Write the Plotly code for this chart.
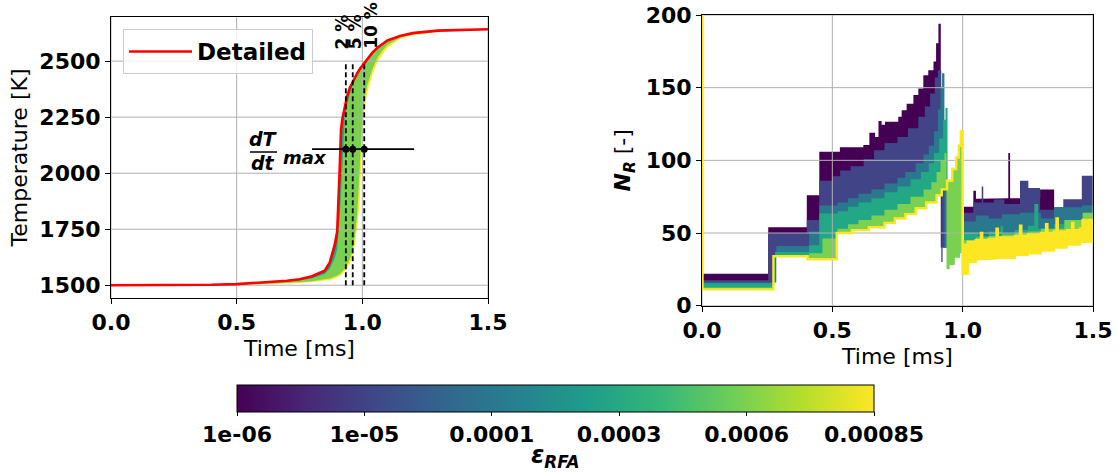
import plotly.graph_objects as go

W, H = 1118, 472
FONT = "DejaVu Sans"

# ---------------- data : left panel (temperature) ----------------
eps_labels = ["1e-06", "1e-05", "0.0001", "0.0003", "0.0006", "0.00085"]
eps_colors = ["#440154", "#414487", "#2a788e", "#22a884", "#7ad151", "#fde725"]

time_T = [0, 0.2, 0.4, 0.5, 0.6, 0.7, 0.75, 0.8, 0.85, 0.87, 0.89, 0.90, 0.91, 0.915, 0.92, 0.93,
          0.94, 0.95, 0.96, 0.97, 0.98, 0.99, 1.0, 1.01, 1.02, 1.04, 1.06, 1.08, 1.1, 1.15, 1.2,
          1.3, 1.4, 1.5]
T_detailed = [1500, 1500, 1502, 1505, 1511, 1520, 1527, 1540, 1565, 1600, 1680, 1740, 2020, 2190,
              2240, 2300, 2345, 2380, 2405, 2428, 2447, 2465, 2480, 2497, 2512, 2538, 2560, 2578,
              2592, 2612, 2625, 2636, 2640, 2642]
T_1e6 = [1500, 1500, 1502, 1505, 1511, 1520, 1527, 1539, 1563, 1598, 1672, 1728, 2000, 2180, 2235,
         2296, 2342, 2378, 2403, 2426, 2445, 2463, 2479, 2496, 2511, 2537, 2559, 2577, 2591, 2611,
         2625, 2636, 2640, 2642]
T_1e5 = [1500, 1500, 1502, 1505, 1510, 1519, 1525, 1537, 1560, 1592, 1662, 1712, 1960, 2150, 2222,
         2288, 2337, 2374, 2400, 2424, 2444, 2462, 2478, 2495, 2510, 2536, 2558, 2576, 2591, 2611,
         2625, 2636, 2640, 2642]
T_1e4 = [1500, 1500, 1502, 1504, 1510, 1518, 1524, 1535, 1556, 1585, 1650, 1695, 1900, 2080, 2190,
         2270, 2328, 2367, 2396, 2420, 2441, 2460, 2476, 2493, 2508, 2535, 2557, 2575, 2590, 2611,
         2624, 2635, 2640, 2642]
T_3e4 = [1500, 1500, 1502, 1504, 1509, 1516, 1521, 1531, 1550, 1572, 1620, 1660, 1800, 1920, 2060,
         2240, 2310, 2355, 2389, 2414, 2436, 2455, 2471, 2488, 2504, 2531, 2554, 2573, 2588, 2610,
         2623, 2635, 2640, 2642]
T_6e4 = [1500, 1500, 1501, 1503, 1505, 1509, 1513, 1518, 1526, 1530, 1538, 1543, 1550, 1555, 1560,
         1575, 1593, 1615, 1650, 1715, 1820, 2050, 2250, 2340, 2395, 2465, 2515, 2548, 2572, 2606,
         2620, 2633, 2639, 2641]
T_85e4 = [1500, 1500, 1501, 1502, 1504, 1507, 1510, 1514, 1520, 1523, 1530, 1535, 1541, 1545, 1550,
          1562, 1578, 1598, 1620, 1680, 1760, 1880, 2180, 2300, 2360, 2440, 2495, 2530, 2560, 2600,
          2615, 2630, 2637, 2640]
T_eps = [T_1e6, T_1e5, T_1e4, T_3e4, T_6e4, T_85e4]

tau_detailed = 0.916          # ignition delay of the detailed mechanism [ms]
tolerances = [2, 5, 10]       # [%]
T_dashed = [1500, 2490]       # vertical extent of the dashed markers [K]
T_dTdt = 2107                 # temperature at max dT/dt [K]
t_dTdt = [0.80, 1.206]        # extent of the horizontal marker [ms]

# ---------------- data : right panel (N_R) ----------------
t_p = [0, 0.254, 0.402, 0.450, 0.529, 0.619, 0.642, 0.664, 0.677, 0.689, 0.702, 0.753, 0.766, 0.785,
       0.811, 0.830, 0.849, 0.868, 0.888, 0.898, 0.907, 0.916, 1.005, 1.041, 1.051, 1.079, 1.175,
       1.182, 1.297, 1.351]
N_p = [22, 54, 76, 106, 109, 110.5, 119, 116, 127, 124.5, 126.5, 130, 134.5, 139, 145, 149.5, 158.5,
       162, 168, 180.5, 194, 40, 68, 79, 73.5, 74, 105, 74, 80, 66]

t_b = [0, 0.254, 0.402, 0.450, 0.50, 0.53, 0.57, 0.62, 0.66, 0.70, 0.75, 0.79, 0.83, 0.855, 0.875,
       0.893, 0.905, 0.918, 0.923, 1.005, 1.041, 1.073, 1.079, 1.12, 1.16, 1.22, 1.252, 1.297, 1.351,
       1.386, 1.457]
N_b = [17.5, 50, 59, 86, 89, 93, 96, 101, 107, 112, 116, 122, 130, 137, 146, 157, 162, 30, 40, 64,
       71, 82, 71, 73, 70, 86, 81, 66, 67.7, 73.3, 89.4]

t_t = [0, 0.285, 0.411, 0.45, 0.52, 0.56, 0.60, 0.65, 0.70, 0.75, 0.78, 0.82, 0.85, 0.87, 0.89,
       0.905, 0.915, 0.921, 0.93, 1.005, 1.05, 1.1, 1.15, 1.22, 1.3, 1.35, 1.457]
N_t = [16, 41, 51, 69, 71, 74, 77, 80, 84, 88, 92, 98, 104, 110, 120, 135, 150, 160, 40, 58, 62, 60,
       63, 64, 60, 67.7, 69]

t_g = [0, 0.28, 0.411, 0.45, 0.52, 0.56, 0.60, 0.65, 0.70, 0.75, 0.80, 0.84, 0.87, 0.89, 0.91, 0.925,
       0.934, 0.942, 1.005, 1.06, 1.1, 1.145, 1.155, 1.2, 1.25, 1.275, 1.29, 1.35, 1.45]
N_g = [15.4, 37, 41.6, 63.5, 65, 68, 71, 74, 78, 82, 87, 92, 98, 105, 115, 128, 136, 40, 50, 48, 51,
       55, 50, 52, 55, 70, 53, 56, 58]

t_l = [0, 0.275, 0.411, 0.462, 0.52, 0.56, 0.60, 0.65, 0.70, 0.75, 0.80, 0.85, 0.88, 0.90, 0.915,
       0.93, 0.938, 0.95, 0.97, 0.99, 1.0, 1.05, 1.1, 1.15, 1.2, 1.25, 1.3, 1.39, 1.46]
N_l = [12.5, 34.5, 36, 46.3, 53, 56, 59, 62, 66, 70, 75, 80, 85, 92, 100, 105, 25, 28, 33, 36, 45,
       47, 48, 49, 50, 51, 53, 59, 64]

# 8.5e-4 series: lower / upper envelope (identical before the drop at 1 ms)
t_y = [0, 0.002, 0.274, 0.405, 0.517, 0.575, 0.64, 0.70, 0.74, 0.78, 0.82, 0.86, 0.90, 0.92, 0.94,
       0.96, 0.975, 0.985, 0.993, 0.9995, 1.02, 1.05, 1.07, 1.075, 1.1, 1.13, 1.135, 1.15, 1.2, 1.22,
       1.225, 1.25, 1.3, 1.32, 1.325, 1.35, 1.36, 1.365, 1.4, 1.42, 1.425, 1.45, 1.46]
N_y_lo = [200, 11.2, 34, 32, 50, 52, 54, 57, 60, 63, 67, 71, 76, 80, 86, 94, 102, 110, 120, 22, 30,
          32, 32, 32, 32.5, 33, 33, 33, 35, 35, 35, 36, 38, 38, 38, 40, 40, 40, 42, 42, 42, 44, 44]
N_y_hi = [200, 11.2, 34, 32, 50, 52, 54, 57, 60, 63, 67, 71, 76, 80, 86, 94, 102, 110, 120, 42, 44,
          45, 50, 45, 46, 53, 47, 47, 48, 55, 48, 49, 50, 56, 50, 51, 60, 51, 52, 57, 52, 53, 59]
N_series = [(t_p, N_p), (t_b, N_b), (t_t, N_t), (t_g, N_g), (t_l, N_l)]

cbar_ticks = eps_labels

# ---------------- helpers ----------------
def px(x):
    return x / W


def py(y):
    return 1 - y / H


def steps(ts, vs, t_end=1.5):
    xs, ys = [], []
    for i, (t, v) in enumerate(zip(ts, vs)):
        tn = ts[i + 1] if i + 1 < len(ts) else t_end
        xs += [t, tn]
        ys += [v, v]
    return xs, ys


fig = go.Figure()

# ---------------- left panel ----------------
for T, c in list(zip(T_eps, eps_colors))[::-1]:
    fig.add_trace(go.Scatter(x=time_T + time_T[::-1], y=T + T_detailed[::-1], fill="toself",
                             fillcolor=c, mode="lines", line=dict(width=0, color=c),
                             hoverinfo="skip", showlegend=False, xaxis="x", yaxis="y"))

grid_c = "#b0b0b0"
Lx_ticks = [0, 0.5, 1.0, 1.5]
Ly_ticks = [1500, 1750, 2000, 2250, 2500]
Ly_range = [1443, 2697]
gx, gy = [], []
for v in Lx_ticks:
    gx += [v, v, None]
    gy += [Ly_range[0], Ly_range[1], None]
for v in Ly_ticks:
    gx += [0, 1.5, None]
    gy += [v, v, None]
fig.add_trace(go.Scatter(x=gx, y=gy, mode="lines", line=dict(color=grid_c, width=1),
                         hoverinfo="skip", showlegend=False, xaxis="x", yaxis="y"))

fig.add_trace(go.Scatter(x=time_T, y=T_detailed, mode="lines", name="Detailed",
                         line=dict(color="red", width=2.6), showlegend=True, xaxis="x", yaxis="y"))

t_marks = [tau_detailed * (1 + p / 100) for p in tolerances]
for tm in t_marks:
    fig.add_trace(go.Scatter(x=[tm, tm], y=T_dashed, mode="lines",
                             line=dict(color="black", width=1.8, dash="5px,3px"),
                             hoverinfo="skip", showlegend=False, xaxis="x", yaxis="y"))
fig.add_trace(go.Scatter(x=t_dTdt, y=[T_dTdt, T_dTdt], mode="lines", line=dict(color="black", width=1.8),
                         hoverinfo="skip", showlegend=False, xaxis="x", yaxis="y"))
fig.add_trace(go.Scatter(x=t_marks, y=[T_dTdt] * len(t_marks), mode="markers",
                         marker=dict(color="black", size=7), hoverinfo="skip", showlegend=False,
                         xaxis="x", yaxis="y"))

# ---------------- right panel ----------------
xs_ylo, ys_ylo = steps(t_y, N_y_lo)
xs_yhi, ys_yhi = steps(t_y, N_y_hi)
for (ts, vs), c in zip(N_series, eps_colors[:5]):
    xs, ys = steps(ts, vs)
    fig.add_trace(go.Scatter(x=xs + xs_ylo[::-1], y=ys + ys_ylo[::-1], fill="toself", fillcolor=c,
                             mode="lines", line=dict(width=0, color=c), hoverinfo="skip",
                             showlegend=False, xaxis="x2", yaxis="y2"))

Rx_ticks = [0, 0.5, 1.0, 1.5]
Ry_ticks = [0, 50, 100, 150, 200]
gx, gy = [], []
for v in Rx_ticks:
    gx += [v, v, None]
    gy += [0, 200, None]
for v in Ry_ticks:
    gx += [0, 1.5, None]
    gy += [v, v, None]
fig.add_trace(go.Scatter(x=gx, y=gy, mode="lines", line=dict(color=grid_c, width=1),
                         hoverinfo="skip", showlegend=False, xaxis="x2", yaxis="y2"))

fig.add_trace(go.Scatter(x=xs_ylo + xs_yhi[::-1], y=ys_ylo + ys_yhi[::-1], fill="toself",
                         fillcolor=eps_colors[5], mode="lines",
                         line=dict(width=2.4, color=eps_colors[5]), hoverinfo="skip",
                         showlegend=False, xaxis="x2", yaxis="y2"))

# colourbar carrier
fig.add_trace(go.Scatter(
    x=[None], y=[None], mode="markers", showlegend=False, xaxis="x", yaxis="y",
    marker=dict(color=[0], cmin=0, cmax=len(cbar_ticks) - 1, colorscale="Viridis", showscale=True,
                colorbar=dict(orientation="h", x=px(555.5), xanchor="center", y=py(385),
                              yanchor="top", len=637, lenmode="pixels", thickness=27,
                              thicknessmode="pixels", xpad=0, ypad=0, outlinewidth=1,
                              outlinecolor="black", tickvals=list(range(len(cbar_ticks))),
                              ticktext=cbar_ticks, ticks="outside", ticklen=4, tickcolor="black",
                              tickfont=dict(family=FONT, size=22, weight="bold", color="black")))))

# colourbar label
fig.add_annotation(x=px(555.5), y=py(456), xref="paper", yref="paper",
                   text="ε<sub>RFA</sub>", showarrow=False, xanchor="center", yanchor="middle",
                   font=dict(family=FONT, size=24, weight="bold", style="italic", color="black"))

axis_common = dict(showline=True, mirror=True, linecolor="black", linewidth=1, ticks="outside",
                   ticklen=5, tickcolor="black", showgrid=False, zeroline=False, automargin=False,
                   tickfont=dict(family=FONT, size=22, weight="bold", color="black"))
title_font = dict(family=FONT, size=22, color="black")

fig.update_layout(
    width=W, height=H, margin=dict(l=0, r=0, t=0, b=0, autoexpand=False),
    plot_bgcolor="white", paper_bgcolor="white",
    font=dict(family=FONT, color="black"),
    xaxis=dict(domain=[px(111), px(488)], range=[0, 1.5], tickvals=Lx_ticks, tickformat=".1f",
               title=dict(text="Time [ms]", font=title_font, standoff=6), anchor="y", **axis_common),
    yaxis=dict(domain=[py(298), py(17)], range=Ly_range, tickvals=Ly_ticks,
               title=dict(text="Temperature [K]", font=title_font, standoff=5), anchor="x",
               **axis_common),
    xaxis2=dict(domain=[px(702), px(1093)], range=[0, 1.5], tickvals=Rx_ticks, tickformat=".1f",
                title=dict(text="Time [ms]", font=title_font, standoff=6), anchor="y2",
                **axis_common),
    yaxis2=dict(domain=[py(305.7), py(15)], range=[0, 200], tickvals=Ry_ticks,
                title=dict(text="<b><i>N</i></b><sub><b><i>R</i></b></sub> [-]", font=title_font,
                           standoff=8), anchor="x2", **axis_common),
    legend=dict(x=px(123), y=py(29), xanchor="left", yanchor="top", bgcolor="rgba(255,255,255,0.8)",
                bordercolor="#cccccc", borderwidth=1, itemwidth=63,
                font=dict(family=FONT, size=23, weight="bold", color="black")),
)

# labels of the tolerance markers
for tm, p, dx in zip(t_marks, tolerances, [-4, 2, 6]):
    fig.add_annotation(x=tm, y=2545, xref="x", yref="y", text=f"{p} %", textangle=-90,
                       showarrow=False, xanchor="center", yanchor="bottom", xshift=dx,
                       font=dict(family=FONT, size=17, weight="bold", color="black"))

# dT/dt max label
frac_font = dict(family=FONT, size=19, weight="bold", style="italic", color="black")
fig.add_annotation(x=px(263), y=py(139), xref="paper", yref="paper", text="dT", showarrow=False,
                   xanchor="center", yanchor="middle", font=frac_font)
fig.add_annotation(x=px(263), y=py(163), xref="paper", yref="paper", text="dt", showarrow=False,
                   xanchor="center", yanchor="middle", font=frac_font)
fig.add_annotation(x=px(281), y=py(157), xref="paper", yref="paper", text="max", showarrow=False,
                   xanchor="left", yanchor="middle",
                   font=dict(family=FONT, size=18, weight="bold", style="italic", color="black"))
fig.add_shape(type="line", xref="paper", yref="paper", x0=px(250), x1=px(277), y0=py(152),
              y1=py(152), line=dict(color="black", width=1.5))

fig.write_html("out.html")
